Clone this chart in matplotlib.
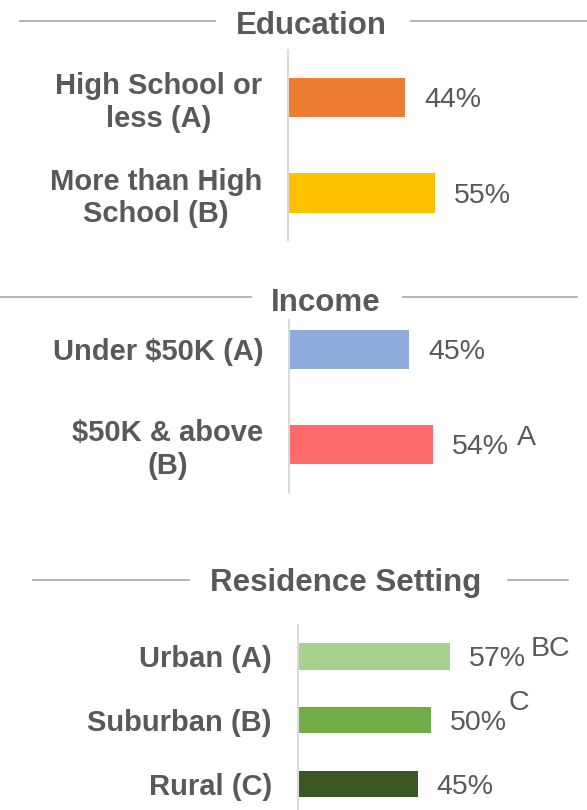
import matplotlib.pyplot as plt
from matplotlib.lines import Line2D

plt.rcParams["font.family"] = ["Liberation Sans", "DejaVu Sans"]

W, H = 587, 810
GRAY = "#595959"

# data
edu_labels = ["High School or\nless (A)", "More than High\nSchool (B)"]
edu_values = [44, 55]
edu_sig = ["", ""]

inc_labels = ["Under \\$50K (A)", "\\$50K & above\n(B)"]
inc_values = [45, 54]
inc_sig = ["", "A"]

res_labels = ["Urban (A)", "Suburban (B)", "Rural (C)"]
res_values = [57, 50, 45]
res_sig = ["BC", "C", ""]

edu_colors = ["#ED7D31", "#FFC000"]
inc_colors = ["#8FAADC", "#FF6B6B"]
res_colors = ["#A9D18E", "#70AD47", "#385723"]

fig = plt.figure(figsize=(W / 100, H / 100), dpi=100)


def px_axes(left, top, bottom, width=267):
    return fig.add_axes([left / W, 1 - bottom / H, width / W, (bottom - top) / H])


def section(ax, labels, values, colors, sig, sig_off, top_m, bot_m):
    n = len(values)
    pos = list(range(n))
    ax.barh(pos, values, height=0.41, color=colors)
    ax.set_xlim(0, 100)
    ax.set_ylim(n - 1 + bot_m, -top_m)
    ax.set_yticks(pos, labels)
    ax.set_xticks([])
    ax.tick_params(axis="y", length=0, pad=18.5, labelsize=21, labelcolor=GRAY)
    for lab in ax.get_yticklabels():
        lab.set_fontweight("bold")
        lab.set_multialignment("center")
        lab.set_linespacing(1.19)
    for s in ["top", "right", "bottom"]:
        ax.spines[s].set_visible(False)
    ax.spines["left"].set_color("#D9D9D9")
    ax.spines["left"].set_linewidth(1.5)
    for i, v in enumerate(values):
        t = ax.annotate(f"{v}%", xy=(v, i), xytext=(13.7, -2), textcoords="offset points",
                        va="center", ha="left", fontsize=20.5, color=GRAY)
        if sig[i]:
            dx, dy = sig_off[i]
            ax.annotate(sig[i], xy=(1, 0.5), xycoords=t, xytext=(dx, dy),
                        textcoords="offset points", va="center", ha="left",
                        fontsize=20.5, color=GRAY)


def header(text, cx, y_base, y_line, segs):
    fig.text(cx / W, 1 - y_base / H, text, ha="center", va="baseline",
             fontsize=22.5, fontweight="bold", color=GRAY)
    for x0, x1 in segs:
        fig.add_artist(Line2D([x0 / W, x1 / W], [1 - y_line / H] * 2,
                              color="#A6A6A6", lw=1.2))


header("Education", 311.5, 34, 21, [(20, 215), (411, 587)])
ax1 = px_axes(288, 50, 240)
section(ax1, edu_labels, edu_values, edu_colors, edu_sig, None, 0.497, 0.492)

header("Income", 326, 311, 297, [(0, 251), (403, 577)])
ax2 = px_axes(289, 320, 492)
section(ax2, inc_labels, inc_values, inc_colors, inc_sig, [None, (5.5, 7)], 0.31, 0.5)

header("Residence Setting", 346, 591, 580, [(33, 189), (508, 568)])
ax3 = px_axes(297.5, 625, 810)
section(ax3, res_labels, res_values, res_colors, res_sig, [(3.5, 7.5), (0.7, 14.5), None],
        0.494, 0.41)

fig.savefig("out.png", dpi=100)
